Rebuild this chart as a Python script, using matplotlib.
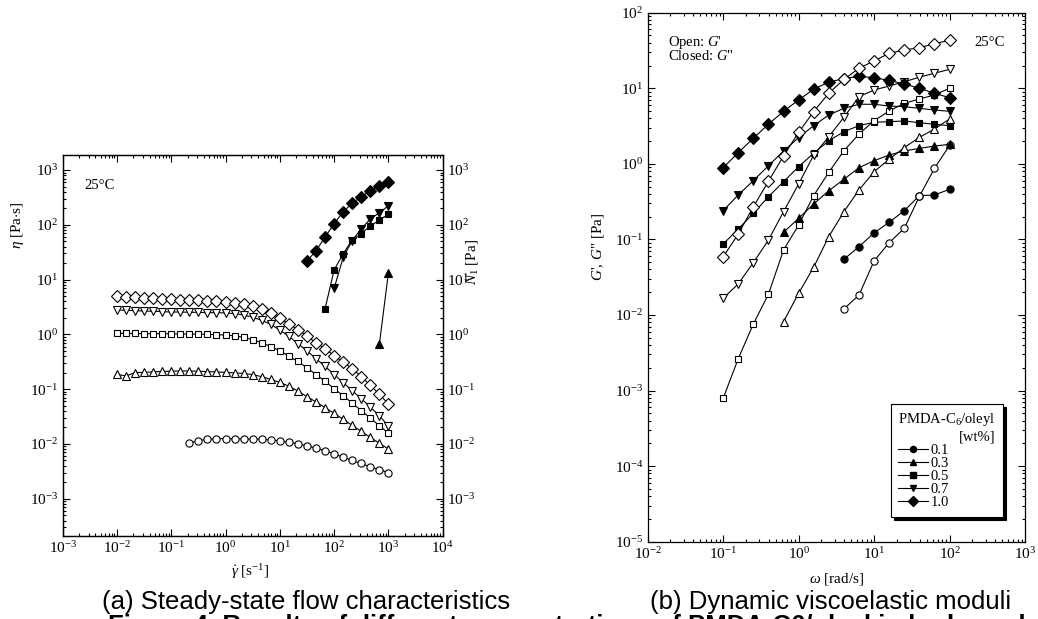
import matplotlib
matplotlib.use("Agg")
import matplotlib.pyplot as plt
from matplotlib.ticker import LogLocator, NullFormatter

plt.rcParams['font.family'] = ['Liberation Serif', 'DejaVu Serif']
plt.rcParams['mathtext.fontset'] = 'custom'
plt.rcParams['mathtext.rm'] = 'Liberation Serif'
plt.rcParams['mathtext.it'] = 'Liberation Serif:italic'
plt.rcParams['mathtext.bf'] = 'Liberation Serif:bold'

# ---- (a) steady shear data ----
gamma = [0.01, 0.0147, 0.0215, 0.0316, 0.0464, 0.0681, 0.1, 0.147, 0.215, 0.316,
         0.464, 0.681, 1.0, 1.47, 2.15, 3.16, 4.64, 6.81, 10, 14.7, 21.5, 31.6,
         46.4, 68.1, 100, 147, 215, 316, 464, 681, 1000]

eta_10 = [5.02, 4.88, 4.75, 4.62, 4.55, 4.43, 4.36, 4.30, 4.24, 4.19, 4.13, 4.07,
          3.96, 3.79, 3.59, 3.30, 2.91, 2.49, 1.96, 1.55, 1.22, 0.935, 0.706, 0.549,
          0.409, 0.313, 0.237, 0.169, 0.118, 0.0806, 0.0537]
eta_07 = [2.79, 2.75, 2.71, 2.67, 2.64, 2.60, 2.56, 2.56, 2.53, 2.53, 2.49, 2.49,
          2.46, 2.39, 2.26, 2.05, 1.81, 1.52, 1.20, 0.92, 0.68, 0.50, 0.36, 0.26,
          0.185, 0.132, 0.094, 0.067, 0.047, 0.033, 0.021]
eta_05 = [1.05, 1.04, 1.04, 1.03, 1.03, 1.03, 1.02, 1.02, 1.01, 1.01, 1.00, 0.99,
          0.97, 0.94, 0.88, 0.80, 0.70, 0.60, 0.50, 0.40, 0.32, 0.245, 0.185, 0.14,
          0.102, 0.076, 0.0556, 0.0406, 0.0296, 0.0216, 0.0157]
eta_03 = [0.187, 0.174, 0.200, 0.203, 0.206, 0.212, 0.212, 0.215, 0.215, 0.212,
          0.209, 0.206, 0.203, 0.198, 0.194, 0.184, 0.169, 0.151, 0.133, 0.113,
          0.0927, 0.0731, 0.0584, 0.0460, 0.0363, 0.0282, 0.0219, 0.0170, 0.0132,
          0.0103, 0.0081]
eta_01 = [0.0103, 0.0115, 0.0122, 0.0125, 0.0125, 0.0125, 0.0123, 0.0123, 0.0122,
          0.0118, 0.0114, 0.0107, 0.0100, 0.0092, 0.0084, 0.0075, 0.0066, 0.0057,
          0.0050, 0.0044, 0.0038, 0.0034, 0.0030]

N1_10 = [21.8, 33.6, 59.8, 105, 173, 247, 326, 414, 511, 611]
N1_07 = [6.93, 25.5, 51.3, 84.9, 128, 166, 223]
N1_05 = [2.94, 15.0, 29.7, 52.8, 68.8, 95, 122, 157]
N1_03 = [0.66, 13.4]

# ---- (b) oscillatory data ----
omega = [0.1, 0.158, 0.251, 0.398, 0.631, 1.0, 1.58, 2.51, 3.98, 6.31, 10,
         15.8, 25.1, 39.8, 63.1, 100]

Gpp_10 = [0.89, 1.40, 2.18, 3.34, 4.96, 7.0, 9.69, 12.1, 13.4, 14.4, 13.8, 12.7,
          11.4, 10.0, 8.58, 7.5]
Gp_10 = [0.059, 0.117, 0.27, 0.587, 1.27, 2.61, 4.90, 8.6, 13.1, 18.4, 23.0, 29.0,
         32.1, 34.4, 38.9, 43.1]
Gpp_07 = [0.24, 0.387, 0.598, 0.944, 1.48, 2.22, 3.20, 4.43, 5.43, 6.14, 6.14,
          5.82, 5.70, 5.43, 5.15, 4.96]
Gp_07 = [0.0166, 0.0257, 0.0492, 0.098, 0.233, 0.541, 1.3, 2.29, 4.13, 7.74, 9.48,
         10.7, 12.2, 14.0, 15.8, 17.8]
Gpp_05 = [0.0869, 0.137, 0.221, 0.367, 0.581, 0.917, 1.38, 2.02, 2.66, 3.20, 3.55,
          3.61, 3.69, 3.50, 3.34, 3.20]
Gp_05 = [0.00079, 0.00262, 0.0076, 0.0188, 0.0724, 0.155, 0.379, 0.773, 1.49,
         2.48, 3.72, 5.0, 6.32, 7.21, 8.15, 10.0]
Gpp_03 = [0.124, 0.190, 0.294, 0.44, 0.624, 0.889, 1.10, 1.31, 1.48, 1.60, 1.72, 1.81]
Gp_03 = [0.00815, 0.0194, 0.0428, 0.109, 0.233, 0.451, 0.787, 1.15, 1.64, 2.24,
         2.89, 3.92]
Gpp_01 = [0.0546, 0.080, 0.122, 0.168, 0.24, 0.379, 0.387, 0.46]
Gp_01 = [0.012, 0.0184, 0.0518, 0.0904, 0.140, 0.37, 0.873, 1.75]

conc_labels = ['0.1', '0.3', '0.5', '0.7', '1.0']
markers = ['o', '^', 's', 'v', 'D']
msizes = [5.2, 5.8, 5.0, 5.8, 6.4]

fig = plt.figure(figsize=(10.38, 6.19), dpi=100)
ax1 = fig.add_axes([0.0604, 0.1341, 0.3661, 0.6155])
ax2 = fig.add_axes([0.624, 0.1249, 0.3635, 0.8546])


def style_log(ax, fs=11):
    ax.set_xscale('log')
    ax.set_yscale('log')
    for axis in (ax.xaxis, ax.yaxis):
        axis.set_major_locator(LogLocator(base=10, numticks=20))
        axis.set_minor_locator(LogLocator(base=10, subs=range(2, 10), numticks=20))
        axis.set_minor_formatter(NullFormatter())
    ax.tick_params(which='both', direction='in', labelsize=fs, width=0.8, pad=3)
    ax.tick_params(which='major', length=5)
    ax.tick_params(which='minor', length=2.5)
    for s in ax.spines.values():
        s.set_linewidth(0.9)


def draw(ax, x, y, i, filled):
    ax.plot(x, y, color='black', lw=0.8, marker=markers[i], ms=msizes[i],
            mfc='black' if filled else 'white', mec='black', mew=0.8)


# (a)
style_log(ax1)
ax1.tick_params(which='both', top=True, right=False)
ax1.set_xlim(1e-3, 1e4)
ylo, yhi = 2.09e-4, 1.88e3
ax1.set_ylim(ylo, yhi)
draw(ax1, gamma[8:], eta_01, 0, False)
draw(ax1, gamma, eta_03, 1, False)
draw(ax1, gamma, eta_05, 2, False)
draw(ax1, gamma, eta_07, 3, False)
draw(ax1, gamma, eta_10, 4, False)

ax1r = ax1.twinx()
style_log(ax1r)
ax1r.tick_params(which='both', left=False, right=True)
ax1r.set_ylim(ylo, yhi)
draw(ax1r, gamma[29:], N1_03, 1, True)
draw(ax1r, gamma[23:], N1_05, 2, True)
draw(ax1r, gamma[24:], N1_07, 3, True)
draw(ax1r, gamma[21:], N1_10, 4, True)

ax1.set_xlabel(r'$\dot{\gamma}$ [s$^{-1}$]', fontsize=11)
ax1.xaxis.set_label_coords(0.493, -0.068)
ax1.set_ylabel(r'$\eta$ [Pa$\cdot$s]', fontsize=11)
ax1.yaxis.set_label_coords(-0.097, 0.816)
ax1r.set_ylabel(r'$N_{\mathrm{1}}$ [Pa]', fontsize=11)
ax1r.yaxis.set_label_coords(1.056, 0.719)
ax1.text(0.056, 0.919, '25°C', transform=ax1.transAxes, fontsize=10.5, va='center')

# (b)
style_log(ax2)
ax2.tick_params(which='both', top=True, right=True)
ax2.set_xlim(1e-2, 1e3)
ax2.set_ylim(1e-5, 1e2)
draw(ax2, omega[8:], Gpp_01, 0, True)
draw(ax2, omega[8:], Gp_01, 0, False)
draw(ax2, omega[4:], Gpp_03, 1, True)
draw(ax2, omega[4:], Gp_03, 1, False)
draw(ax2, omega, Gpp_05, 2, True)
draw(ax2, omega, Gp_05, 2, False)
draw(ax2, omega, Gpp_07, 3, True)
draw(ax2, omega, Gp_07, 3, False)
draw(ax2, omega, Gpp_10, 4, True)
draw(ax2, omega, Gp_10, 4, False)

ax2.set_xlabel(r'$\omega$ [rad/s]', fontsize=11)
ax2.xaxis.set_label_coords(0.501, -0.055)
ax2.set_ylabel("$G$', $G$\" [Pa]", fontsize=11)
ax2.yaxis.set_label_coords(-0.11, 0.557)
ax2.text(0.0546, 0.943, "Open: $G$'", transform=ax2.transAxes, fontsize=10.5, va='center')
ax2.text(0.0546, 0.918, 'Closed: $G$"', transform=ax2.transAxes, fontsize=10.5, va='center')
ax2.text(0.865, 0.943, '25°C', transform=ax2.transAxes, fontsize=10.5, va='center')

handles = [plt.Line2D([], [], color='black', lw=0.8, marker=markers[i], ms=msizes[i] - 0.8,
                      mfc='black', mec='black') for i in range(5)]
leg = ax2.legend(handles, conc_labels, loc='upper left', bbox_to_anchor=(0.645, 0.26),
                 title='PMDA-C$_6$/oleyl\n[wt%]', fontsize=10.5, title_fontsize=10.5,
                 frameon=True, fancybox=False, edgecolor='black', framealpha=1,
                 shadow={'color': 'black', 'alpha': 1, 'ox': 2, 'oy': -2},
                 labelspacing=0.0, handlelength=2.0, handletextpad=0.2,
                 borderpad=0.5, borderaxespad=0)
leg.get_frame().set_linewidth(0.8)
leg.get_title().set_multialignment('right')
leg._legend_box.align = 'left'

# captions
fig.text(0.295, 0.027, '(a) Steady-state flow characteristics', ha='center', va='center',
         fontsize=18.5, family='Liberation Sans')
fig.text(0.80, 0.027, '(b) Dynamic viscoelastic moduli', ha='center', va='center',
         fontsize=18.5, family='Liberation Sans')
fig.text(0.104, 0.0081, 'Figure 4. Results of different concentrations of PMDA-C6/oleyl in hydrocarbon',
         ha='left', va='top', fontsize=18.5, family='Liberation Sans', fontweight='bold')

fig.savefig('out.png', dpi=100)
